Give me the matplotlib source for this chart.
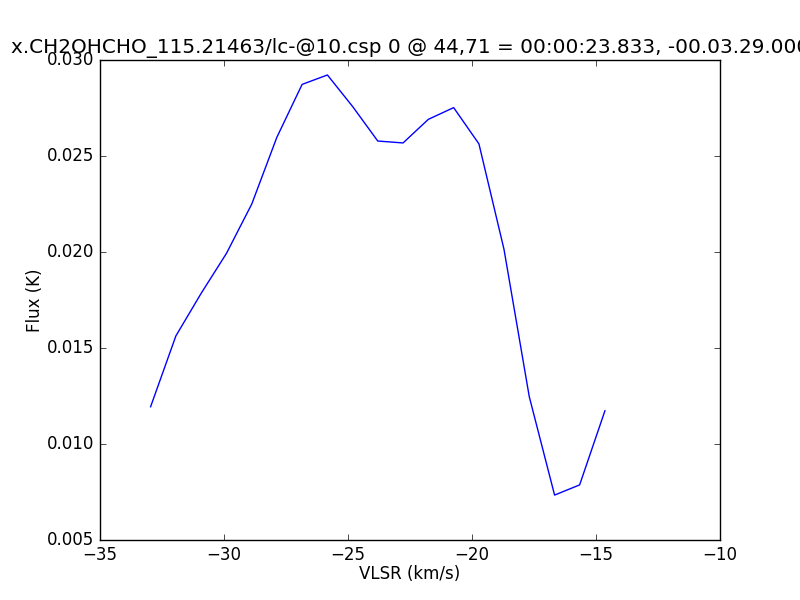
import matplotlib
matplotlib.use("Agg")
import matplotlib.pyplot as plt

plt.style.use("classic")

vlsr = [-32.96, -31.94, -30.92, -29.90, -28.88, -27.87, -26.85, -25.83, -24.81,
        -23.80, -22.78, -21.76, -20.74, -19.72, -18.71, -17.69, -16.67, -15.66, -14.64]
flux = [0.01194, 0.01563, 0.01785, 0.01993, 0.02250, 0.02597, 0.02873, 0.02922, 0.02757,
        0.02578, 0.02568, 0.02691, 0.02752, 0.02563, 0.02014, 0.01246, 0.00734, 0.00787, 0.01173]

title = "x.CH2OHCHO_115.21463/lc-@10.csp 0 @ 44,71 = 00:00:23.833, -00.03.29.000"

fig = plt.figure(figsize=(8, 6), dpi=100, facecolor="white")
ax = fig.add_subplot(111)
ax.plot(vlsr, flux, color="b", linewidth=1.0)
ax.set_xlim(-35, -10)
ax.set_ylim(0.005, 0.030)
ax.set_xlabel("VLSR (km/s)", labelpad=1)
ax.set_ylabel("Flux (K)", labelpad=2)
ax.set_title(title)
fig.savefig("out.png", dpi=100, facecolor="white")
